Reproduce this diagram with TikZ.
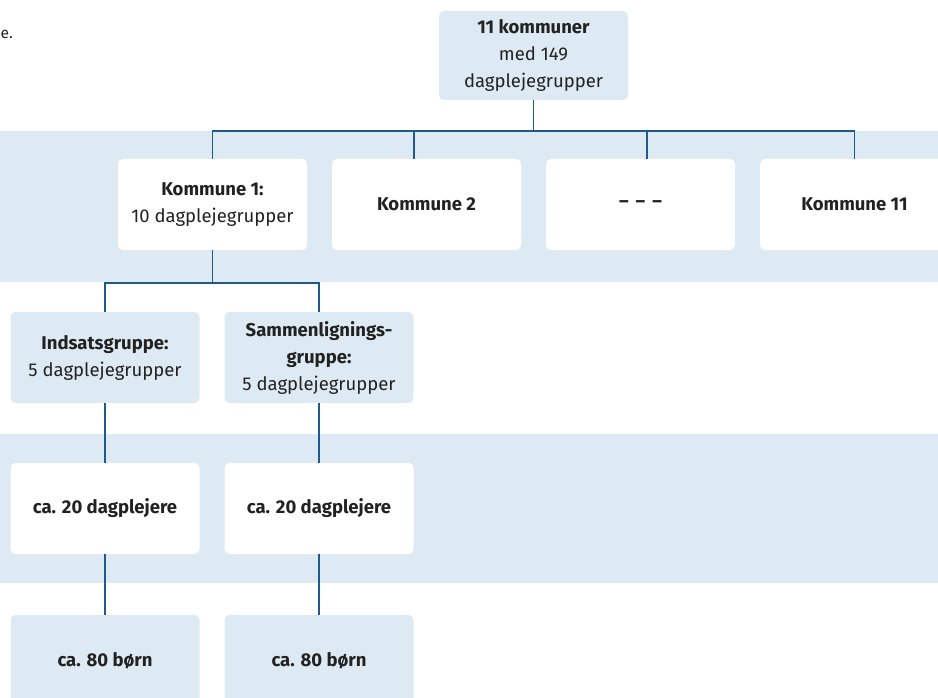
\documentclass[tikz,border=0pt]{standalone}
\usepackage{fontspec}
\setmainfont{Fira Sans}
\definecolor{band}{HTML}{DEEAF3}
\definecolor{lnk}{HTML}{1F5A8E}
\definecolor{ink}{HTML}{222222}
\begin{document}
\begin{tikzpicture}[x=1pt,y=-1pt,
  box/.style={rectangle,rounded corners=5pt,minimum width=189pt,minimum height=91pt,
    inner sep=0pt,align=center,text=ink,font=\fontsize{18.5}{27}\selectfont},
  wbox/.style={box,fill=white},
  bbox/.style={box,fill=band},
  conn/.style={draw=lnk,line width=1.4pt}]
\useasboundingbox (0,0) rectangle (938,698);
\fill[band] (0,131) rectangle (938,282);
\fill[band] (0,434) rectangle (938,583);
\node[text=ink,font=\fontsize{15.5}{16}\selectfont,anchor=base west,inner sep=0pt] (cut) at (0.5,38.5) {e.};
% top
\node[bbox,minimum height=89pt] (top) at (533.5,55.5) {\textbf{11 kommuner}\\med 149\\dagplejegrupper};
% level 2
\node[wbox] (k1) at (212.5,204.5) {\textbf{Kommune 1:}\\10 dagplejegrupper};
\node[wbox] (k2) at (426.5,204.5) {\textbf{Kommune 2}};
\node[wbox] (k3) at (640.5,204.5) {\textbf{–\hspace{7pt}–\hspace{7pt}–}};
\node[wbox] (k11) at (854.5,204.5) {\textbf{Kommune 11}};
% level 3
\node[bbox] (g1) at (105,357.5) {\textbf{Indsatsgruppe:}\\5 dagplejegrupper};
\node[bbox] (g2) at (319,357.5) {\textbf{Sammenlignings-}\\\textbf{gruppe:}\\5 dagplejegrupper};
% level 4
\node[wbox] (d1) at (105,508.5) {\textbf{ca. 20 dagplejere}};
\node[wbox] (d2) at (319,508.5) {\textbf{ca. 20 dagplejere}};
% level 5
\node[bbox] (b1) at (105,660.5) {\textbf{ca. 80 børn}};
\node[bbox] (b2) at (319,660.5) {\textbf{ca. 80 børn}};
% connectors
\coordinate (hub) at (533.5,131);
\draw[conn] (top.south) -- (hub);
\draw[conn] (k1.north) -- (k1.north |- hub) -- (k11.north |- hub) -- (k11.north);
\draw[conn] ([xshift=-12.5pt]k2.north) -- ([xshift=-12.5pt]k2.north |- hub);
\draw[conn] ([xshift=6.5pt]k3.north) -- ([xshift=6.5pt]k3.north |- hub);
\coordinate (hub2) at (212.5,283);
\draw[conn] (k1.south) -- (hub2);
\draw[conn] (g1.north) -- (g1.north |- hub2) -- (g2.north |- hub2) -- (g2.north);
\draw[conn] (g1.south) -- (d1.north);
\draw[conn] (g2.south) -- (d2.north);
\draw[conn] (d1.south) -- (b1.north);
\draw[conn] (d2.south) -- (b2.north);
\end{tikzpicture}
\end{document}
